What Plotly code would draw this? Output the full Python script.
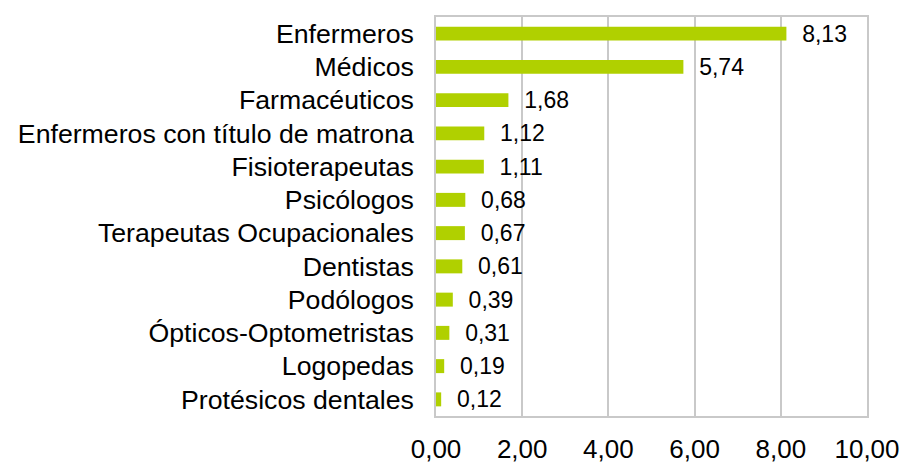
import plotly.graph_objects as go

categories = ["Enfermeros", "Médicos", "Farmacéuticos", "Enfermeros con título de matrona",
              "Fisioterapeutas", "Psicólogos", "Terapeutas Ocupacionales", "Dentistas",
              "Podólogos", "Ópticos-Optometristas", "Logopedas", "Protésicos dentales"]
values = [8.13, 5.74, 1.68, 1.12, 1.11, 0.68, 0.67, 0.61, 0.39, 0.31, 0.19, 0.12]
x_ticks = [0, 2, 4, 6, 8, 10]
x_tick_labels = ["0,00", "2,00", "4,00", "6,00", "8,00", "10,00"]

fig = go.Figure(go.Bar(
    x=values, y=categories, orientation="h",
    marker=dict(color="#b0d000", line=dict(width=0)),
    width=0.42,
    texttemplate="\u00a0\u00a0%{x:.2f}", textposition="outside",
    constraintext="none",
    textfont=dict(family="Liberation Sans, Arial", size=23, color="#000000"),
    cliponaxis=False,
))

fig.update_layout(
    width=903, height=463, autosize=False,
    margin=dict(l=436, r=36, t=17, b=47),
    plot_bgcolor="white", paper_bgcolor="white",
    separators=",.",
    showlegend=False,
    font=dict(family="Liberation Sans, Arial", size=26, color="#000000"),
    xaxis=dict(range=[0, 10], tickvals=x_ticks, ticktext=x_tick_labels,
               automargin=False,
               showgrid=True, gridcolor="#c9c9c9", gridwidth=1.5,
               showline=True, linecolor="#c9c9c9", linewidth=1.5, mirror=True,
               zeroline=False, tickfont=dict(size=26), ticklabelstandoff=9),
    yaxis=dict(autorange="reversed", showgrid=False, automargin=False,
               tickvals=categories, ticktext=categories,
               showline=True, linecolor="#c9c9c9", linewidth=1.5, mirror=True,
               tickfont=dict(size=26.7), ticklabelstandoff=15),
)

fig.write_html("out.html",
               config={"responsive": False, "displayModeBar": False},
               post_script="document.body.style.margin='0';document.body.style.overflow='hidden';")
